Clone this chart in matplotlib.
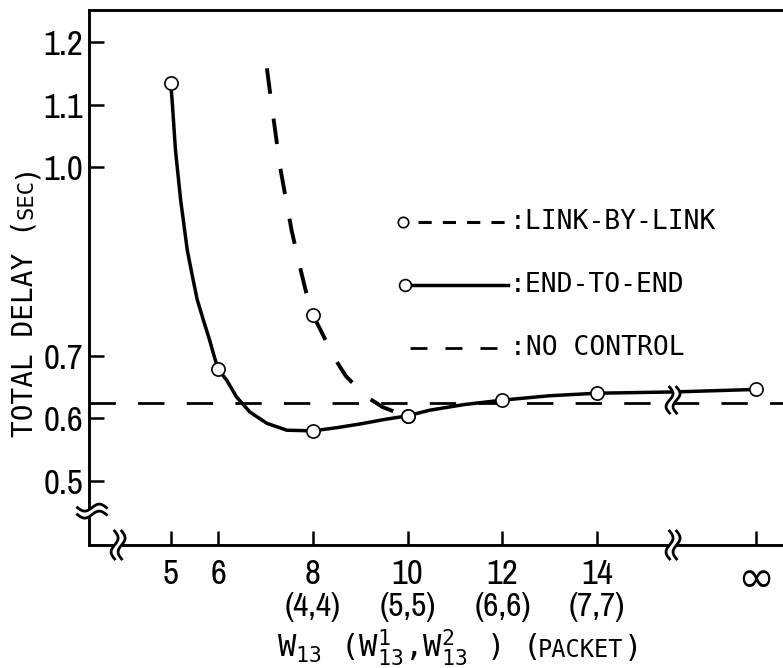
import numpy as np
import matplotlib
matplotlib.use("Agg")
import matplotlib.pyplot as plt
import matplotlib.transforms as mtransforms
from matplotlib import font_manager
from matplotlib.patches import Polygon
from matplotlib.lines import Line2D

# ---- data ----
INF_POS = 17.34                      # where the "infinity" tick sits on the axis
x_ticks = [5, 6, 8, 10, 12, 14]
x_tick_labels = ["5", "6", "8", "10", "12", "14"]
pair_ticks = [8, 10, 12, 14]
pair_labels = ["(4,4)", "(5,5)", "(6,6)", "(7,7)"]
y_ticks = [0.5, 0.6, 0.7, 1.0, 1.1, 1.2]
y_tick_labels = ["0.5", "0.6", "0.7", "1.0", "1.1", "1.2"]

# end-to-end: measured points + traced curve
e2e_x = [5, 6, 8, 10, 12, 14, INF_POS]
e2e_y = [1.134, 0.678, 0.580, 0.604, 0.629, 0.640, 0.646]
e2e_curve_x = [5.0, 5.03, 5.10, 5.21, 5.35, 5.454, 5.56, 5.688, 5.82, 5.91, 6.0,
               6.18, 6.39, 6.67, 7.03, 7.45, 8.0, 8.5, 9.0, 9.5, 10.0, 10.47, 11.2,
               12.0, 13.0, 14.0, 15.6, INF_POS]
e2e_curve_y = [1.134, 1.107, 1.028, 0.948, 0.868, 0.828, 0.789, 0.757, 0.725, 0.701,
               0.678, 0.661, 0.634, 0.610, 0.592, 0.581, 0.580, 0.585, 0.591, 0.598,
               0.604, 0.613, 0.622, 0.629, 0.636, 0.640, 0.642, 0.646]

# link-by-link: measured points + traced curve
lbl_x = [8, 10]
lbl_y = [0.765, 0.604]
lbl_curve_x = [7.03, 7.13, 7.22, 7.31, 7.43, 7.55, 7.70, 7.86, 8.0, 8.20, 8.43, 8.70,
               9.12, 9.47, 9.91, 10.0]
lbl_curve_y = [1.158, 1.10, 1.05, 1.00, 0.95, 0.90, 0.85, 0.80, 0.765, 0.735, 0.699,
               0.667, 0.635, 0.618, 0.605, 0.604]

no_control = 0.625

legend_labels = [":LINK-BY-LINK", ":END-TO-END", ":NO CONTROL"]


# ---- fonts: narrow digits, typewriter-like words ----
def pick_font():
    found = []
    for f in font_manager.fontManager.ttflist:
        if f.style != "normal" or f.weight not in (400, "normal", "regular", "book"):
            continue
        n = f.name.lower()
        st = str(f.stretch).lower()
        if "narrow" in n:
            found.append((0, f.name, "normal"))
        elif f.name == "DejaVu Sans" and "condensed" in st and "extra" not in st:
            found.append((1, f.name, "condensed"))
        elif "condensed" in n and "extra" not in n and "semi" not in n:
            found.append((2, f.name, "normal"))
        elif "condensed" in st and "extra" not in st and "semi" not in st:
            found.append((3, f.name, "condensed"))
    if found:
        found.sort()
        return found[0][1], found[0][2]
    return "DejaVu Sans", "normal"


NUM_FONT, STRETCH = pick_font()
TXT_FONT = "DejaVu Sans Mono"
plt.rcParams["font.family"] = [NUM_FONT, "DejaVu Sans"]
plt.rcParams["font.stretch"] = STRETCH
plt.rcParams["mathtext.fontset"] = "custom"
plt.rcParams["mathtext.rm"] = TXT_FONT
plt.rcParams["mathtext.it"] = TXT_FONT
plt.rcParams["mathtext.default"] = "rm"
plt.rcParams["lines.scale_dashes"] = False

W, H = 783, 668
fig = plt.figure(figsize=(W / 100, H / 100), dpi=100)
ax = fig.add_axes([89 / W, (H - 545) / H, (W - 89) / W, (545 - 10) / H])
ax.set_xlim(3.276, 17.92)
ax.set_ylim(0.398, 1.251)
ax.spines["right"].set_visible(False)
for s in ("left", "top", "bottom"):
    ax.spines[s].set_linewidth(2.1)

ax.set_yticks(y_ticks)
ax.set_yticklabels(y_tick_labels)
ax.tick_params(axis="y", direction="in", length=11, width=1.8, pad=4, labelsize=25)
ax.set_xticks(x_ticks + [INF_POS])
ax.set_xticklabels(x_tick_labels + ["\u221e"])
ax.tick_params(axis="x", direction="in", length=10, width=1.8, pad=9, labelsize=25)
inf_lab = ax.get_xticklabels()[-1]
inf_lab.set_fontsize(32)
inf_lab.set_family(["DejaVu Sans", "DejaVu Sans Mono"])
inf_lab.set_stretch("normal")

for xv, lab in zip(pair_ticks, pair_labels):
    ax.text(xv, -0.116, lab, transform=ax.get_xaxis_transform(), ha="center",
            va="center", fontsize=24)

# ---- curves ----
ax.axhline(no_control, color="k", lw=2.0, dashes=(19, 16))
ax.plot(e2e_curve_x, e2e_curve_y, color="k", lw=2.5, solid_capstyle="round",
        solid_joinstyle="round")
ax.plot(lbl_curve_x, lbl_curve_y, color="k", lw=2.8, dashes=(18.5, 18))
ax.plot(e2e_x, e2e_y, "o", ms=9.5, mfc="white", mec="k", mew=1.2, zorder=4, clip_on=False)
ax.plot(lbl_x, lbl_y, "o", ms=9.5, mfc="white", mec="k", mew=1.2, zorder=4, clip_on=False)

# ---- hand-made legend ----
rows = [0.604, 0.486, 0.368]
tA = ax.transAxes
ax.plot([0.453], [rows[0]], "o", ms=7.5, mfc="white", mec="k", mew=1.2, transform=tA)
ax.plot([0.474, 0.607], [rows[0]] * 2, color="k", lw=2.2, dashes=(9.5, 8), transform=tA)
ax.plot([0.4625, 0.604], [rows[1]] * 2, color="k", lw=2.5, transform=tA)
ax.plot([0.455], [rows[1]], "o", ms=8.5, mfc="white", mec="k", mew=1.2, transform=tA, zorder=4)
ax.plot([0.4625, 0.592], [rows[2]] * 2, color="k", lw=2.0, dashes=(12.2, 13), transform=tA)
for r, lab in zip(rows, legend_labels):
    ax.text(0.606, r, lab, transform=tA, ha="left", va="center", fontsize=19,
            family=TXT_FONT, stretch="normal")


# ---- axis / curve breaks ----
def draw_break(xd, yd, vertical, length=26, amp=3.5, gap=7, lw=2.0, dx=0):
    px, py = ax.transData.transform((xd, yd))
    px += dx
    t = np.linspace(-1, 1, 40)
    along = t * length / 2
    wave = amp * np.sin(np.pi * t)
    a = np.concatenate([along, along[::-1]])
    b = np.concatenate([wave - gap / 2, (wave + gap / 2)[::-1]])
    if vertical:
        pts = np.c_[px + b, py + a]
    else:
        pts = np.c_[px + a, py + b]
    fig.add_artist(Polygon(pts, closed=True, fc="white", ec="none",
                           transform=mtransforms.IdentityTransform()))
    for off in (-gap / 2, gap / 2):
        if vertical:
            xs, ys = px + wave + off, py + along
        else:
            xs, ys = px + along, py + wave + off
        fig.add_artist(Line2D(xs, ys, color="k", lw=lw,
                              transform=mtransforms.IdentityTransform()))


draw_break(3.276, 0.452, vertical=False, length=29, dx=3)
draw_break(3.89, 0.398, vertical=True, length=28)
draw_break(15.6, 0.398, vertical=True, length=28)
draw_break(15.6, 0.629, vertical=True, length=26)


# ---- labels with small caps parts ----
def chain(x0, y0, pieces, rotation=0):
    r = fig.canvas.get_renderer()
    x, y = x0, y0
    for s, size in pieces:
        t = fig.text(x / W, y / H, s, fontsize=size, rotation=rotation,
                     rotation_mode="anchor", ha="left", va="baseline",
                     family=TXT_FONT, stretch="normal")
        bb = t.get_window_extent(r)
        if rotation == 0:
            x += bb.width
        else:
            y += bb.height


chain(33, H - 437, [("TOTAL DELAY (", 20), ("SEC", 16), (")", 20)], rotation=90)
chain(277, H - 657, [(r"W$_{13}$ (W$^{1}_{13}$,W$^{2}_{13}$ ) (", 22), ("PACKET", 17), (")", 22)])

fig.savefig("out.png", dpi=100)
